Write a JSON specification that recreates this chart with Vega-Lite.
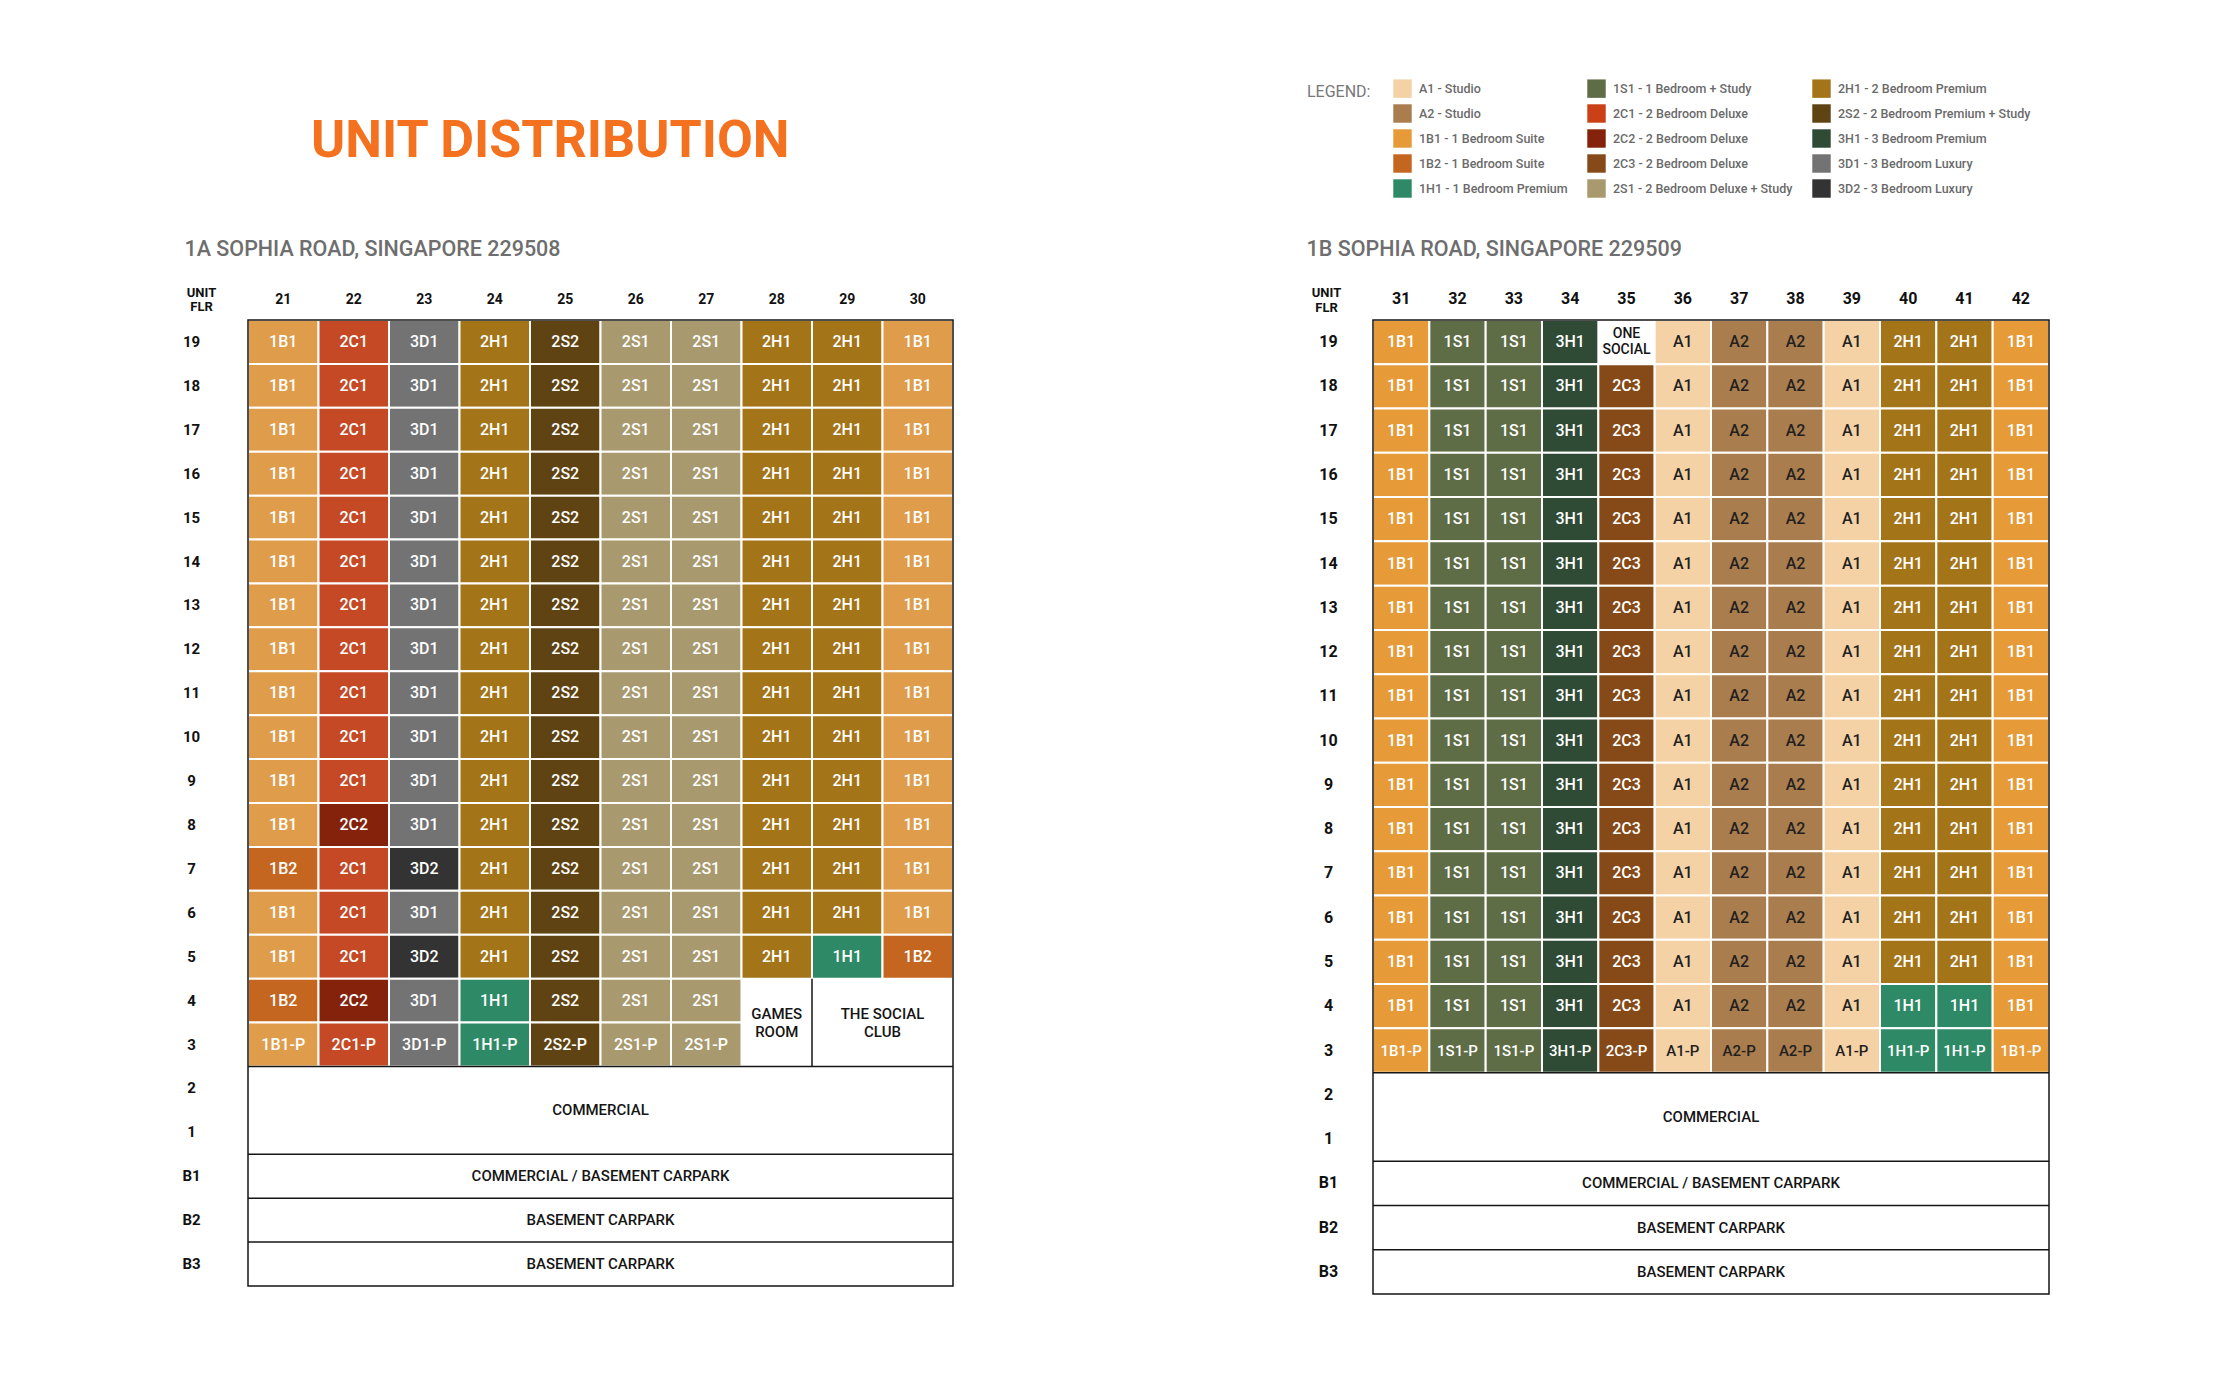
{
  "$schema": "https://vega.github.io/schema/vega-lite/v6.json",
  "background": "white",
  "padding": {"left": 181, "top": 79, "right": 20, "bottom": 20},
  "autosize": {"type": "pad"},
  "config": {
    "view": {"stroke": null},
    "font": "Roboto",
    "axis": {"labelFont": "Roboto", "titleFont": "Roboto", "grid": false}
  },
  "spacing": 352,
  "resolve": {"scale": {"color": "independent"}},
  "datasets": {
    "left": [
      {"u":21,"f":"19","t":"1B1"},{"u":22,"f":"19","t":"2C1"},{"u":23,"f":"19","t":"3D1"},{"u":24,"f":"19","t":"2H1"},{"u":25,"f":"19","t":"2S2"},{"u":26,"f":"19","t":"2S1"},{"u":27,"f":"19","t":"2S1"},{"u":28,"f":"19","t":"2H1"},{"u":29,"f":"19","t":"2H1"},{"u":30,"f":"19","t":"1B1"},
      {"u":21,"f":"18","t":"1B1"},{"u":22,"f":"18","t":"2C1"},{"u":23,"f":"18","t":"3D1"},{"u":24,"f":"18","t":"2H1"},{"u":25,"f":"18","t":"2S2"},{"u":26,"f":"18","t":"2S1"},{"u":27,"f":"18","t":"2S1"},{"u":28,"f":"18","t":"2H1"},{"u":29,"f":"18","t":"2H1"},{"u":30,"f":"18","t":"1B1"},
      {"u":21,"f":"17","t":"1B1"},{"u":22,"f":"17","t":"2C1"},{"u":23,"f":"17","t":"3D1"},{"u":24,"f":"17","t":"2H1"},{"u":25,"f":"17","t":"2S2"},{"u":26,"f":"17","t":"2S1"},{"u":27,"f":"17","t":"2S1"},{"u":28,"f":"17","t":"2H1"},{"u":29,"f":"17","t":"2H1"},{"u":30,"f":"17","t":"1B1"},
      {"u":21,"f":"16","t":"1B1"},{"u":22,"f":"16","t":"2C1"},{"u":23,"f":"16","t":"3D1"},{"u":24,"f":"16","t":"2H1"},{"u":25,"f":"16","t":"2S2"},{"u":26,"f":"16","t":"2S1"},{"u":27,"f":"16","t":"2S1"},{"u":28,"f":"16","t":"2H1"},{"u":29,"f":"16","t":"2H1"},{"u":30,"f":"16","t":"1B1"},
      {"u":21,"f":"15","t":"1B1"},{"u":22,"f":"15","t":"2C1"},{"u":23,"f":"15","t":"3D1"},{"u":24,"f":"15","t":"2H1"},{"u":25,"f":"15","t":"2S2"},{"u":26,"f":"15","t":"2S1"},{"u":27,"f":"15","t":"2S1"},{"u":28,"f":"15","t":"2H1"},{"u":29,"f":"15","t":"2H1"},{"u":30,"f":"15","t":"1B1"},
      {"u":21,"f":"14","t":"1B1"},{"u":22,"f":"14","t":"2C1"},{"u":23,"f":"14","t":"3D1"},{"u":24,"f":"14","t":"2H1"},{"u":25,"f":"14","t":"2S2"},{"u":26,"f":"14","t":"2S1"},{"u":27,"f":"14","t":"2S1"},{"u":28,"f":"14","t":"2H1"},{"u":29,"f":"14","t":"2H1"},{"u":30,"f":"14","t":"1B1"},
      {"u":21,"f":"13","t":"1B1"},{"u":22,"f":"13","t":"2C1"},{"u":23,"f":"13","t":"3D1"},{"u":24,"f":"13","t":"2H1"},{"u":25,"f":"13","t":"2S2"},{"u":26,"f":"13","t":"2S1"},{"u":27,"f":"13","t":"2S1"},{"u":28,"f":"13","t":"2H1"},{"u":29,"f":"13","t":"2H1"},{"u":30,"f":"13","t":"1B1"},
      {"u":21,"f":"12","t":"1B1"},{"u":22,"f":"12","t":"2C1"},{"u":23,"f":"12","t":"3D1"},{"u":24,"f":"12","t":"2H1"},{"u":25,"f":"12","t":"2S2"},{"u":26,"f":"12","t":"2S1"},{"u":27,"f":"12","t":"2S1"},{"u":28,"f":"12","t":"2H1"},{"u":29,"f":"12","t":"2H1"},{"u":30,"f":"12","t":"1B1"},
      {"u":21,"f":"11","t":"1B1"},{"u":22,"f":"11","t":"2C1"},{"u":23,"f":"11","t":"3D1"},{"u":24,"f":"11","t":"2H1"},{"u":25,"f":"11","t":"2S2"},{"u":26,"f":"11","t":"2S1"},{"u":27,"f":"11","t":"2S1"},{"u":28,"f":"11","t":"2H1"},{"u":29,"f":"11","t":"2H1"},{"u":30,"f":"11","t":"1B1"},
      {"u":21,"f":"10","t":"1B1"},{"u":22,"f":"10","t":"2C1"},{"u":23,"f":"10","t":"3D1"},{"u":24,"f":"10","t":"2H1"},{"u":25,"f":"10","t":"2S2"},{"u":26,"f":"10","t":"2S1"},{"u":27,"f":"10","t":"2S1"},{"u":28,"f":"10","t":"2H1"},{"u":29,"f":"10","t":"2H1"},{"u":30,"f":"10","t":"1B1"},
      {"u":21,"f":"9","t":"1B1"},{"u":22,"f":"9","t":"2C1"},{"u":23,"f":"9","t":"3D1"},{"u":24,"f":"9","t":"2H1"},{"u":25,"f":"9","t":"2S2"},{"u":26,"f":"9","t":"2S1"},{"u":27,"f":"9","t":"2S1"},{"u":28,"f":"9","t":"2H1"},{"u":29,"f":"9","t":"2H1"},{"u":30,"f":"9","t":"1B1"},
      {"u":21,"f":"8","t":"1B1"},{"u":22,"f":"8","t":"2C2"},{"u":23,"f":"8","t":"3D1"},{"u":24,"f":"8","t":"2H1"},{"u":25,"f":"8","t":"2S2"},{"u":26,"f":"8","t":"2S1"},{"u":27,"f":"8","t":"2S1"},{"u":28,"f":"8","t":"2H1"},{"u":29,"f":"8","t":"2H1"},{"u":30,"f":"8","t":"1B1"},
      {"u":21,"f":"7","t":"1B2"},{"u":22,"f":"7","t":"2C1"},{"u":23,"f":"7","t":"3D2"},{"u":24,"f":"7","t":"2H1"},{"u":25,"f":"7","t":"2S2"},{"u":26,"f":"7","t":"2S1"},{"u":27,"f":"7","t":"2S1"},{"u":28,"f":"7","t":"2H1"},{"u":29,"f":"7","t":"2H1"},{"u":30,"f":"7","t":"1B1"},
      {"u":21,"f":"6","t":"1B1"},{"u":22,"f":"6","t":"2C1"},{"u":23,"f":"6","t":"3D1"},{"u":24,"f":"6","t":"2H1"},{"u":25,"f":"6","t":"2S2"},{"u":26,"f":"6","t":"2S1"},{"u":27,"f":"6","t":"2S1"},{"u":28,"f":"6","t":"2H1"},{"u":29,"f":"6","t":"2H1"},{"u":30,"f":"6","t":"1B1"},
      {"u":21,"f":"5","t":"1B1"},{"u":22,"f":"5","t":"2C1"},{"u":23,"f":"5","t":"3D2"},{"u":24,"f":"5","t":"2H1"},{"u":25,"f":"5","t":"2S2"},{"u":26,"f":"5","t":"2S1"},{"u":27,"f":"5","t":"2S1"},{"u":28,"f":"5","t":"2H1"},{"u":29,"f":"5","t":"1H1"},{"u":30,"f":"5","t":"1B2"},
      {"u":21,"f":"4","t":"1B2"},{"u":22,"f":"4","t":"2C2"},{"u":23,"f":"4","t":"3D1"},{"u":24,"f":"4","t":"1H1"},{"u":25,"f":"4","t":"2S2"},{"u":26,"f":"4","t":"2S1"},{"u":27,"f":"4","t":"2S1"},
      {"u":21,"f":"3","t":"1B1","l":"1B1-P"},{"u":22,"f":"3","t":"2C1","l":"2C1-P"},{"u":23,"f":"3","t":"3D1","l":"3D1-P"},{"u":24,"f":"3","t":"1H1","l":"1H1-P"},{"u":25,"f":"3","t":"2S2","l":"2S2-P"},{"u":26,"f":"3","t":"2S1","l":"2S1-P"},{"u":27,"f":"3","t":"2S1","l":"2S1-P"}
    ],
    "right": [
      {"u":31,"f":"19","t":"1B1"},{"u":32,"f":"19","t":"1S1"},{"u":33,"f":"19","t":"1S1"},{"u":34,"f":"19","t":"3H1"},{"u":36,"f":"19","t":"A1"},{"u":37,"f":"19","t":"A2"},{"u":38,"f":"19","t":"A2"},{"u":39,"f":"19","t":"A1"},{"u":40,"f":"19","t":"2H1"},{"u":41,"f":"19","t":"2H1"},{"u":42,"f":"19","t":"1B1"},
      {"u":31,"f":"18","t":"1B1"},{"u":32,"f":"18","t":"1S1"},{"u":33,"f":"18","t":"1S1"},{"u":34,"f":"18","t":"3H1"},{"u":35,"f":"18","t":"2C3"},{"u":36,"f":"18","t":"A1"},{"u":37,"f":"18","t":"A2"},{"u":38,"f":"18","t":"A2"},{"u":39,"f":"18","t":"A1"},{"u":40,"f":"18","t":"2H1"},{"u":41,"f":"18","t":"2H1"},{"u":42,"f":"18","t":"1B1"},
      {"u":31,"f":"17","t":"1B1"},{"u":32,"f":"17","t":"1S1"},{"u":33,"f":"17","t":"1S1"},{"u":34,"f":"17","t":"3H1"},{"u":35,"f":"17","t":"2C3"},{"u":36,"f":"17","t":"A1"},{"u":37,"f":"17","t":"A2"},{"u":38,"f":"17","t":"A2"},{"u":39,"f":"17","t":"A1"},{"u":40,"f":"17","t":"2H1"},{"u":41,"f":"17","t":"2H1"},{"u":42,"f":"17","t":"1B1"},
      {"u":31,"f":"16","t":"1B1"},{"u":32,"f":"16","t":"1S1"},{"u":33,"f":"16","t":"1S1"},{"u":34,"f":"16","t":"3H1"},{"u":35,"f":"16","t":"2C3"},{"u":36,"f":"16","t":"A1"},{"u":37,"f":"16","t":"A2"},{"u":38,"f":"16","t":"A2"},{"u":39,"f":"16","t":"A1"},{"u":40,"f":"16","t":"2H1"},{"u":41,"f":"16","t":"2H1"},{"u":42,"f":"16","t":"1B1"},
      {"u":31,"f":"15","t":"1B1"},{"u":32,"f":"15","t":"1S1"},{"u":33,"f":"15","t":"1S1"},{"u":34,"f":"15","t":"3H1"},{"u":35,"f":"15","t":"2C3"},{"u":36,"f":"15","t":"A1"},{"u":37,"f":"15","t":"A2"},{"u":38,"f":"15","t":"A2"},{"u":39,"f":"15","t":"A1"},{"u":40,"f":"15","t":"2H1"},{"u":41,"f":"15","t":"2H1"},{"u":42,"f":"15","t":"1B1"},
      {"u":31,"f":"14","t":"1B1"},{"u":32,"f":"14","t":"1S1"},{"u":33,"f":"14","t":"1S1"},{"u":34,"f":"14","t":"3H1"},{"u":35,"f":"14","t":"2C3"},{"u":36,"f":"14","t":"A1"},{"u":37,"f":"14","t":"A2"},{"u":38,"f":"14","t":"A2"},{"u":39,"f":"14","t":"A1"},{"u":40,"f":"14","t":"2H1"},{"u":41,"f":"14","t":"2H1"},{"u":42,"f":"14","t":"1B1"},
      {"u":31,"f":"13","t":"1B1"},{"u":32,"f":"13","t":"1S1"},{"u":33,"f":"13","t":"1S1"},{"u":34,"f":"13","t":"3H1"},{"u":35,"f":"13","t":"2C3"},{"u":36,"f":"13","t":"A1"},{"u":37,"f":"13","t":"A2"},{"u":38,"f":"13","t":"A2"},{"u":39,"f":"13","t":"A1"},{"u":40,"f":"13","t":"2H1"},{"u":41,"f":"13","t":"2H1"},{"u":42,"f":"13","t":"1B1"},
      {"u":31,"f":"12","t":"1B1"},{"u":32,"f":"12","t":"1S1"},{"u":33,"f":"12","t":"1S1"},{"u":34,"f":"12","t":"3H1"},{"u":35,"f":"12","t":"2C3"},{"u":36,"f":"12","t":"A1"},{"u":37,"f":"12","t":"A2"},{"u":38,"f":"12","t":"A2"},{"u":39,"f":"12","t":"A1"},{"u":40,"f":"12","t":"2H1"},{"u":41,"f":"12","t":"2H1"},{"u":42,"f":"12","t":"1B1"},
      {"u":31,"f":"11","t":"1B1"},{"u":32,"f":"11","t":"1S1"},{"u":33,"f":"11","t":"1S1"},{"u":34,"f":"11","t":"3H1"},{"u":35,"f":"11","t":"2C3"},{"u":36,"f":"11","t":"A1"},{"u":37,"f":"11","t":"A2"},{"u":38,"f":"11","t":"A2"},{"u":39,"f":"11","t":"A1"},{"u":40,"f":"11","t":"2H1"},{"u":41,"f":"11","t":"2H1"},{"u":42,"f":"11","t":"1B1"},
      {"u":31,"f":"10","t":"1B1"},{"u":32,"f":"10","t":"1S1"},{"u":33,"f":"10","t":"1S1"},{"u":34,"f":"10","t":"3H1"},{"u":35,"f":"10","t":"2C3"},{"u":36,"f":"10","t":"A1"},{"u":37,"f":"10","t":"A2"},{"u":38,"f":"10","t":"A2"},{"u":39,"f":"10","t":"A1"},{"u":40,"f":"10","t":"2H1"},{"u":41,"f":"10","t":"2H1"},{"u":42,"f":"10","t":"1B1"},
      {"u":31,"f":"9","t":"1B1"},{"u":32,"f":"9","t":"1S1"},{"u":33,"f":"9","t":"1S1"},{"u":34,"f":"9","t":"3H1"},{"u":35,"f":"9","t":"2C3"},{"u":36,"f":"9","t":"A1"},{"u":37,"f":"9","t":"A2"},{"u":38,"f":"9","t":"A2"},{"u":39,"f":"9","t":"A1"},{"u":40,"f":"9","t":"2H1"},{"u":41,"f":"9","t":"2H1"},{"u":42,"f":"9","t":"1B1"},
      {"u":31,"f":"8","t":"1B1"},{"u":32,"f":"8","t":"1S1"},{"u":33,"f":"8","t":"1S1"},{"u":34,"f":"8","t":"3H1"},{"u":35,"f":"8","t":"2C3"},{"u":36,"f":"8","t":"A1"},{"u":37,"f":"8","t":"A2"},{"u":38,"f":"8","t":"A2"},{"u":39,"f":"8","t":"A1"},{"u":40,"f":"8","t":"2H1"},{"u":41,"f":"8","t":"2H1"},{"u":42,"f":"8","t":"1B1"},
      {"u":31,"f":"7","t":"1B1"},{"u":32,"f":"7","t":"1S1"},{"u":33,"f":"7","t":"1S1"},{"u":34,"f":"7","t":"3H1"},{"u":35,"f":"7","t":"2C3"},{"u":36,"f":"7","t":"A1"},{"u":37,"f":"7","t":"A2"},{"u":38,"f":"7","t":"A2"},{"u":39,"f":"7","t":"A1"},{"u":40,"f":"7","t":"2H1"},{"u":41,"f":"7","t":"2H1"},{"u":42,"f":"7","t":"1B1"},
      {"u":31,"f":"6","t":"1B1"},{"u":32,"f":"6","t":"1S1"},{"u":33,"f":"6","t":"1S1"},{"u":34,"f":"6","t":"3H1"},{"u":35,"f":"6","t":"2C3"},{"u":36,"f":"6","t":"A1"},{"u":37,"f":"6","t":"A2"},{"u":38,"f":"6","t":"A2"},{"u":39,"f":"6","t":"A1"},{"u":40,"f":"6","t":"2H1"},{"u":41,"f":"6","t":"2H1"},{"u":42,"f":"6","t":"1B1"},
      {"u":31,"f":"5","t":"1B1"},{"u":32,"f":"5","t":"1S1"},{"u":33,"f":"5","t":"1S1"},{"u":34,"f":"5","t":"3H1"},{"u":35,"f":"5","t":"2C3"},{"u":36,"f":"5","t":"A1"},{"u":37,"f":"5","t":"A2"},{"u":38,"f":"5","t":"A2"},{"u":39,"f":"5","t":"A1"},{"u":40,"f":"5","t":"2H1"},{"u":41,"f":"5","t":"2H1"},{"u":42,"f":"5","t":"1B1"},
      {"u":31,"f":"4","t":"1B1"},{"u":32,"f":"4","t":"1S1"},{"u":33,"f":"4","t":"1S1"},{"u":34,"f":"4","t":"3H1"},{"u":35,"f":"4","t":"2C3"},{"u":36,"f":"4","t":"A1"},{"u":37,"f":"4","t":"A2"},{"u":38,"f":"4","t":"A2"},{"u":39,"f":"4","t":"A1"},{"u":40,"f":"4","t":"1H1"},{"u":41,"f":"4","t":"1H1"},{"u":42,"f":"4","t":"1B1"},
      {"u":31,"f":"3","t":"1B1","l":"1B1-P"},{"u":32,"f":"3","t":"1S1","l":"1S1-P"},{"u":33,"f":"3","t":"1S1","l":"1S1-P"},{"u":34,"f":"3","t":"3H1","l":"3H1-P"},{"u":35,"f":"3","t":"2C3","l":"2C3-P"},{"u":36,"f":"3","t":"A1","l":"A1-P"},{"u":37,"f":"3","t":"A2","l":"A2-P"},{"u":38,"f":"3","t":"A2","l":"A2-P"},{"u":39,"f":"3","t":"A1","l":"A1-P"},{"u":40,"f":"3","t":"1H1","l":"1H1-P"},{"u":41,"f":"3","t":"1H1","l":"1H1-P"},{"u":42,"f":"3","t":"1B1","l":"1B1-P"}
    ]
  },
  "hconcat": [
    {
      "width": 705,
      "height": 966,
      "title": {"text": "UNIT DISTRIBUTION", "anchor": "start", "frame": "group", "dx": 63, "offset": 29, "baseline": "alphabetic", "fontSize": 52, "fontWeight": "bold", "color": "#F4711F", "font": "Roboto"},
      "layer": [
        {
          "data": {"name": "left"},
          "mark": {"type": "rect", "stroke": "white", "strokeWidth": 2},
          "encoding": {
            "x": {"field": "u", "type": "ordinal",
              "scale": {"domain": [21,22,23,24,25,26,27,28,29,30], "paddingInner": 0, "paddingOuter": 0},
              "axis": {"orient": "top", "domain": false, "ticks": false, "labelAngle": 0, "labelFontSize": 14, "labelFontWeight": "bold", "labelColor": "#111111", "labelPadding": 21, "labelBaseline": "middle",
                "title": "1A SOPHIA ROAD, SINGAPORE 229508", "titleX": -64, "titleY": -71, "titleAlign": "left", "titleBaseline": "middle", "titleFontSize": 21.5, "titleFontWeight": 500, "titleColor": "#6e6e6e"}},
            "y": {"field": "f", "type": "ordinal",
              "scale": {"domain": ["19","18","17","16","15","14","13","12","11","10","9","8","7","6","5","4","3","2","1","B1","B2","B3"], "paddingInner": 0, "paddingOuter": 0},
              "axis": {"orient": "left", "domain": false, "ticks": false, "labelFontSize": 15, "labelFontWeight": "bold", "labelColor": "#111111", "labelAlign": "center", "labelPadding": 57,
                "title": ["UNIT", "FLR"], "titleAngle": 0, "titleX": -47, "titleY": -28, "titleAlign": "center", "titleBaseline": "middle", "titleFontSize": 13, "titleFontWeight": "bold", "titleColor": "#111111", "titleLineHeight": 14}},
            "color": {"field": "t", "type": "nominal",
              "scale": {"domain": ["A1","A2","1B1","1B2","1H1","1S1","2C1","2C2","2C3","2S1","2H1","2S2","3H1","3D1","3D2"],
                        "range": ["#F4D2A6","#A97D4D","#DF9C4B","#C4661F","#2E8A66","#5E6D45","#C44924","#84220C","#864A18","#A89A6E","#A47418","#5F4312","#2F4B35","#737373","#333333"]},
              "legend": null}
          }
        },
        {
          "data": {"name": "left"},
          "transform": [{"filter": "!datum.l"}],
          "mark": {"type": "text", "font": "Roboto", "fontSize": 16, "fontWeight": 500},
          "encoding": {
            "x": {"field": "u", "type": "ordinal"},
            "y": {"field": "f", "type": "ordinal"},
            "text": {"field": "t"},
            "color": {"condition": {"test": "datum.t == 'A1' || datum.t == 'A2'", "value": "#231F20"}, "value": "#ffffff"}
          }
        },
        {
          "data": {"name": "left"},
          "transform": [{"filter": "datum.l"}],
          "mark": {"type": "text", "font": "Roboto", "fontSize": 16, "fontWeight": 500},
          "encoding": {
            "x": {"field": "u", "type": "ordinal"},
            "y": {"field": "f", "type": "ordinal"},
            "text": {"field": "l"},
            "color": {"condition": {"test": "datum.t == 'A1' || datum.t == 'A2'", "value": "#231F20"}, "value": "#ffffff"}
          }
        },
        {
          "data": {"values": [{"f": "B1", "s": "COMMERCIAL / BASEMENT CARPARK"}, {"f": "B2", "s": "BASEMENT CARPARK"}, {"f": "B3", "s": "BASEMENT CARPARK"}]},
          "mark": {"type": "text", "font": "Roboto", "fontSize": 15, "fontWeight": 500, "color": "#151515"},
          "encoding": {
            "y": {"field": "f", "type": "ordinal"},
            "text": {"field": "s"}
          }
        },
        {
          "data": {"values": [{"f": "2", "s": "COMMERCIAL"}]},
          "mark": {"type": "text", "font": "Roboto", "fontSize": 15, "fontWeight": 500, "color": "#151515"},
          "encoding": {
            "y": {"field": "f", "type": "ordinal", "bandPosition": 1},
            "text": {"field": "s"}
          }
        },
        {
          "data": {"values": [{"u": 28, "f": "4", "s": ["GAMES", "ROOM"]}]},
          "mark": {"type": "text", "font": "Roboto", "fontSize": 15, "fontWeight": 500, "color": "#151515", "lineHeight": 18, "dy": -9},
          "encoding": {
            "x": {"field": "u", "type": "ordinal"},
            "y": {"field": "f", "type": "ordinal", "bandPosition": 1},
            "text": {"field": "s"}
          }
        },
        {
          "data": {"values": [{"u": 29, "f": "4", "s": ["THE SOCIAL", "CLUB"]}]},
          "mark": {"type": "text", "font": "Roboto", "fontSize": 15, "fontWeight": 500, "color": "#151515", "lineHeight": 18, "dy": -9},
          "encoding": {
            "x": {"field": "u", "type": "ordinal", "bandPosition": 1},
            "y": {"field": "f", "type": "ordinal", "bandPosition": 1},
            "text": {"field": "s"}
          }
        },
        {
          "data": {"values": [{"f": "2"}, {"f": "B1"}, {"f": "B2"}, {"f": "B3"}]},
          "mark": {"type": "rule", "color": "#151515", "strokeWidth": 1.5},
          "encoding": {
            "y": {"field": "f", "type": "ordinal", "bandPosition": 0}
          }
        },
        {
          "data": {"values": [{"u": 29, "f": "4", "g": "3"}]},
          "mark": {"type": "rule", "color": "#151515", "strokeWidth": 1.5},
          "encoding": {
            "x": {"field": "u", "type": "ordinal", "bandPosition": 0},
            "y": {"field": "f", "type": "ordinal", "bandPosition": 0},
            "y2": {"field": "g", "bandPosition": 1}
          }
        },
        {
          "data": {"values": [{}]},
          "mark": {"type": "rect", "filled": false, "color": "#151515", "strokeWidth": 1.5},
          "encoding": {}
        }
      ]
    },
    {
      "width": 676,
      "height": 974,
      "layer": [
        {
          "data": {"name": "right"},
          "mark": {"type": "rect", "stroke": "white", "strokeWidth": 2},
          "encoding": {
            "x": {"field": "u", "type": "ordinal",
              "scale": {"domain": [31,32,33,34,35,36,37,38,39,40,41,42], "paddingInner": 0, "paddingOuter": 0},
              "axis": {"orient": "top", "domain": false, "ticks": false, "labelAngle": 0, "labelFontSize": 16, "labelFontWeight": "bold", "labelColor": "#111111", "labelPadding": 22, "labelBaseline": "middle",
                "title": "1B SOPHIA ROAD, SINGAPORE 229509", "titleX": -67, "titleY": -71, "titleAlign": "left", "titleBaseline": "middle", "titleFontSize": 21.5, "titleFontWeight": 500, "titleColor": "#6e6e6e"}},
            "y": {"field": "f", "type": "ordinal",
              "scale": {"domain": ["19","18","17","16","15","14","13","12","11","10","9","8","7","6","5","4","3","2","1","B1","B2","B3"], "paddingInner": 0, "paddingOuter": 0},
              "axis": {"orient": "left", "domain": false, "ticks": false, "labelFontSize": 16, "labelFontWeight": "bold", "labelColor": "#111111", "labelAlign": "center", "labelPadding": 45,
                "title": ["UNIT", "FLR"], "titleAngle": 0, "titleX": -47, "titleY": -28, "titleAlign": "center", "titleBaseline": "middle", "titleFontSize": 13, "titleFontWeight": "bold", "titleColor": "#111111", "titleLineHeight": 15}},
            "color": {"field": "t", "type": "nominal",
              "scale": {"domain": ["A1","A2","1B1","1B2","1H1","1S1","2C1","2C2","2C3","2S1","2H1","2S2","3H1","3D1","3D2"],
                        "range": ["#F4D2A6","#A97D4D","#E69A38","#C4661F","#2E8A66","#5E6D45","#CB4016","#84220C","#864A18","#A89A6E","#A37418","#5F4312","#2F4B35","#737373","#333333"]},
              "legend": {
                "orient": "none", "legendX": -66, "legendY": -241,
                "title": "LEGEND:", "titleOrient": "left", "titleAnchor": "start", "titleBaseline": "line-top", "titleLineHeight": 26, "titlePadding": 22,
                "titleFont": "Roboto", "titleFontSize": 16, "titleFontWeight": "normal", "titleColor": "#777777",
                "columns": 3, "columnPadding": 19, "rowPadding": 6,
                "symbolType": "square", "symbolSize": 340, "symbolStrokeWidth": 0, "symbolOpacity": 1,
                "labelFont": "Roboto", "labelFontSize": 12.5, "labelFontWeight": 500, "labelColor": "#6a6a6a", "labelOffset": 7, "labelLimit": 300,
                "labelExpr": "datum.label == 'A1' ? 'A1 - Studio' : datum.label == 'A2' ? 'A2 - Studio' : datum.label == '1B1' ? '1B1 - 1 Bedroom Suite' : datum.label == '1B2' ? '1B2 - 1 Bedroom Suite' : datum.label == '1H1' ? '1H1 - 1 Bedroom Premium' : datum.label == '1S1' ? '1S1 - 1 Bedroom + Study' : datum.label == '2C1' ? '2C1 - 2 Bedroom Deluxe' : datum.label == '2C2' ? '2C2 - 2 Bedroom Deluxe' : datum.label == '2C3' ? '2C3 - 2 Bedroom Deluxe' : datum.label == '2S1' ? '2S1 - 2 Bedroom Deluxe + Study' : datum.label == '2H1' ? '2H1 - 2 Bedroom Premium' : datum.label == '2S2' ? '2S2 - 2 Bedroom Premium + Study' : datum.label == '3H1' ? '3H1 - 3 Bedroom Premium' : datum.label == '3D1' ? '3D1 - 3 Bedroom Luxury' : '3D2 - 3 Bedroom Luxury'"
              }}
          }
        },
        {
          "data": {"name": "right"},
          "transform": [{"filter": "!datum.l"}],
          "mark": {"type": "text", "font": "Roboto", "fontSize": 16, "fontWeight": 500},
          "encoding": {
            "x": {"field": "u", "type": "ordinal"},
            "y": {"field": "f", "type": "ordinal"},
            "text": {"field": "t"},
            "color": {"condition": {"test": "datum.t == 'A1' || datum.t == 'A2'", "value": "#231F20"}, "value": "#ffffff"}
          }
        },
        {
          "data": {"name": "right"},
          "transform": [{"filter": "datum.l"}],
          "mark": {"type": "text", "font": "Roboto", "fontSize": 15, "fontWeight": 500},
          "encoding": {
            "x": {"field": "u", "type": "ordinal"},
            "y": {"field": "f", "type": "ordinal"},
            "text": {"field": "l"},
            "color": {"condition": {"test": "datum.t == 'A1' || datum.t == 'A2'", "value": "#231F20"}, "value": "#ffffff"}
          }
        },
        {
          "data": {"values": [{"u": 35, "f": "19", "s": ["ONE", "SOCIAL"]}]},
          "mark": {"type": "text", "font": "Roboto", "fontSize": 14, "fontWeight": 500, "color": "#151515", "lineHeight": 16, "dy": -8},
          "encoding": {
            "x": {"field": "u", "type": "ordinal"},
            "y": {"field": "f", "type": "ordinal"},
            "text": {"field": "s"}
          }
        },
        {
          "data": {"values": [{"f": "B1", "s": "COMMERCIAL / BASEMENT CARPARK"}, {"f": "B2", "s": "BASEMENT CARPARK"}, {"f": "B3", "s": "BASEMENT CARPARK"}]},
          "mark": {"type": "text", "font": "Roboto", "fontSize": 15, "fontWeight": 500, "color": "#151515"},
          "encoding": {
            "y": {"field": "f", "type": "ordinal"},
            "text": {"field": "s"}
          }
        },
        {
          "data": {"values": [{"f": "2", "s": "COMMERCIAL"}]},
          "mark": {"type": "text", "font": "Roboto", "fontSize": 15, "fontWeight": 500, "color": "#151515"},
          "encoding": {
            "y": {"field": "f", "type": "ordinal", "bandPosition": 1},
            "text": {"field": "s"}
          }
        },
        {
          "data": {"values": [{"f": "2"}, {"f": "B1"}, {"f": "B2"}, {"f": "B3"}]},
          "mark": {"type": "rule", "color": "#151515", "strokeWidth": 1.5},
          "encoding": {
            "y": {"field": "f", "type": "ordinal", "bandPosition": 0}
          }
        },
        {
          "data": {"values": [{}]},
          "mark": {"type": "rect", "filled": false, "color": "#151515", "strokeWidth": 1.5},
          "encoding": {}
        }
      ]
    }
  ]
}
